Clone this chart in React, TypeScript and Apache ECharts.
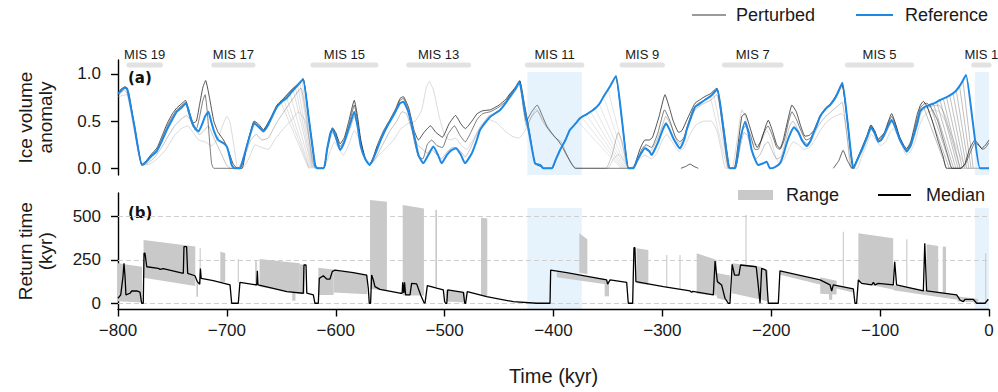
import React, { useEffect, useRef } from "react";
import * as echarts from "echarts";

const FONT = '"Liberation Sans", Arial, Helvetica, sans-serif';

// ---------- MIS stages (kyr) ----------
const MIS_LABELS = ["MIS 19", "MIS 17", "MIS 15", "MIS 13", "MIS 11", "MIS 9", "MIS 7", "MIS 5", "MIS 1"];
const MIS_START = [-790, -712, -621, -533, -424, -337, -243, -130, -14];
const MIS_END = [-761, -676, -563, -478, -374, -300, -191, -71, 0];

// highlighted intervals
const SHADE_START = [-424, -13];
const SHADE_END = [-374, 0];

// ---------- (a) ice volume anomaly ----------
const REF = [
  [-800, 0.79], [-796, 0.84], [-793.5, 0.855], [-791.5, 0.84], [-785, 0.45], [-778, 0.035], [-774, 0.07], [-770, 0.12],
  [-764.5, 0.18], [-760, 0.28], [-755, 0.41], [-750, 0.52], [-746, 0.6], [-742, 0.64], [-737.5, 0.69], [-735, 0.6],
  [-732, 0.49], [-729, 0.42], [-726, 0.39], [-723, 0.46], [-720, 0.55], [-717, 0.6], [-714.5, 0.5], [-712, 0.4],
  [-708, 0.3], [-703, 0.265], [-700, 0.23], [-698, 0.15], [-695.6, 0.035], [-693, 0], [-688, 0], [-685, 0.1],
  [-681.8, 0.23], [-678, 0.38], [-675, 0.477], [-671, 0.44], [-666.5, 0.39], [-663, 0.44], [-660, 0.51], [-654, 0.65],
  [-648, 0.72], [-645, 0.745], [-639, 0.83], [-635, 0.88], [-630, 0.944], [-625, 0.55], [-619, 0.035], [-617, 0],
  [-611, 0], [-608, 0.2], [-605, 0.37], [-603, 0.414], [-600, 0.33], [-596, 0.194], [-593, 0.25], [-590, 0.353],
  [-586, 0.5], [-583, 0.6], [-580, 0.45], [-577, 0.23], [-573, 0.1], [-569, 0.035], [-566, 0.09], [-562, 0.2],
  [-558, 0.32], [-553, 0.44], [-547, 0.56], [-541, 0.69], [-538, 0.706], [-533.4, 0.6], [-528, 0.35], [-524, 0.14],
  [-519.6, 0.053], [-515, 0.14], [-510.4, 0.23], [-506, 0.14], [-502.8, 0.053], [-498, 0.14], [-494, 0.19], [-489.6, 0.212],
  [-485, 0.14], [-481.3, 0.053], [-475, 0.16], [-471, 0.28], [-467.5, 0.406], [-463, 0.48], [-458, 0.547], [-449, 0.618],
  [-444, 0.69], [-440, 0.76], [-435, 0.84], [-431.4, 0.918], [-427, 0.65], [-422, 0.35], [-417, 0.053], [-412, 0.035],
  [-409.4, 0], [-401.7, 0], [-398, 0.09], [-394, 0.194], [-389, 0.3], [-385, 0.406], [-380, 0.47], [-375.7, 0.53],
  [-370, 0.57], [-363.5, 0.618], [-358, 0.68], [-354, 0.76], [-348, 0.87], [-342.6, 0.979], [-337, 0.5], [-331.3, 0],
  [-326.7, 0], [-323, 0.09], [-320.5, 0.14], [-316, 0.212], [-312, 0.18], [-309.8, 0.14], [-307, 0.2], [-303.7, 0.282],
  [-300, 0.4], [-296.7, 0.477], [-293, 0.4], [-290, 0.318], [-286, 0.24], [-283.8, 0.212], [-280, 0.3], [-277.7, 0.406],
  [-274, 0.53], [-270, 0.65], [-265, 0.69], [-261, 0.724], [-256, 0.76], [-249.5, 0.838], [-244, 0.43], [-238, 0],
  [-233.3, 0], [-229, 0.28], [-224, 0.494], [-221, 0.38], [-218, 0.194], [-214, 0.07], [-211.9, 0.035], [-207.3, 0.053],
  [-204.2, 0.07], [-201.2, 0], [-197, 0.01], [-192, 0.053], [-189, 0.14], [-185.8, 0.265], [-182, 0.38], [-179, 0.435],
  [-175, 0.38], [-172, 0.3], [-167.5, 0.236], [-164, 0.29], [-161.4, 0.371], [-158, 0.46], [-155.2, 0.547], [-150, 0.63],
  [-146, 0.671], [-142, 0.73], [-139.9, 0.777], [-134.7, 0.908], [-130, 0.5], [-124.6, 0], [-121, 0.09], [-116.9, 0.194],
  [-112, 0.33], [-108.4, 0.435], [-105, 0.37], [-101.7, 0.282], [-99, 0.3], [-96.4, 0.353], [-93, 0.44], [-89.4, 0.512],
  [-86, 0.43], [-81.8, 0.3], [-78, 0.22], [-75.6, 0.176], [-72, 0.24], [-69.5, 0.335], [-66, 0.47], [-63.4, 0.6],
  [-60, 0.645], [-57.2, 0.66], [-50, 0.69], [-45, 0.724], [-38, 0.76], [-31.2, 0.812], [-26, 0.89], [-21.1, 0.989],
  [-15, 0.5], [-8.3, 0], [0, 0],
];

const PERT_D1 = [
  [-800, 0.8], [-796, 0.85], [-793.5, 0.865], [-791.5, 0.85], [-785, 0.46], [-778, 0.04], [-774, 0.08], [-770, 0.14], [-764, 0.22],
  [-760, 0.33], [-755, 0.47], [-750, 0.58], [-746, 0.64], [-742, 0.68], [-738, 0.72], [-735, 0.62], [-731, 0.48], [-728, 0.5],
  [-725, 0.68], [-722, 0.86], [-719.5, 0.93], [-716, 0.75], [-712, 0.5], [-708, 0.38], [-703, 0.3], [-699, 0.2], [-694, 0.04],
  [-690, 0], [-686, 0], [-682, 0.23], [-678, 0.4], [-675, 0.5], [-671, 0.47], [-666.5, 0.41], [-660, 0.53], [-654, 0.67],
  [-648, 0.74], [-640, 0.84], [-635, 0.89], [-630, 0.95], [-625, 0.55], [-619, 0.035], [-617, 0], [-611, 0], [-608, 0.2],
  [-603, 0.43], [-600, 0.38], [-596, 0.26], [-592, 0.33], [-588, 0.5], [-583, 0.72], [-580, 0.55], [-577, 0.3], [-573, 0.1],
  [-569, 0.035], [-566, 0.1], [-562, 0.24], [-556, 0.4], [-550, 0.52], [-545, 0.63], [-541, 0.74], [-538, 0.76], [-533, 0.64],
  [-528, 0.4], [-524, 0.3], [-519, 0.38], [-513, 0.45], [-508, 0.38], [-502, 0.33], [-496, 0.47], [-490, 0.56], [-485, 0.47],
  [-481, 0.42], [-475, 0.5], [-470, 0.58], [-465, 0.61], [-458, 0.62], [-450, 0.67], [-444, 0.73], [-440, 0.79], [-435, 0.86],
  [-431, 0.93], [-427, 0.7], [-422, 0.38], [-417, 0.05], [-412, 0.02], [-409, 0], [-401, 0], [-398, 0.09], [-394, 0.19],
  [-389, 0.3], [-385, 0.41], [-380, 0.47], [-376, 0.53], [-370, 0.57], [-364, 0.62], [-358, 0.68], [-354, 0.76], [-348, 0.87],
  [-343, 0.975], [-337, 0.5], [-331, 0], [-327, 0], [-323, 0.12], [-320, 0.22], [-316, 0.3], [-312, 0.3], [-309, 0.33],
  [-303, 0.55], [-297.6, 0.78], [-293, 0.62], [-290, 0.5], [-285, 0.38], [-282, 0.4], [-278, 0.5], [-274, 0.6], [-270, 0.69],
  [-265, 0.73], [-261, 0.76], [-256, 0.79], [-250, 0.85], [-244, 0.45], [-238, 0], [-234, 0], [-230, 0.3], [-227, 0.55],
  [-224, 0.58], [-220, 0.45], [-216, 0.3], [-213, 0.22], [-209, 0.3], [-205, 0.45], [-202.7, 0.51], [-199, 0.4], [-195, 0.25],
  [-192, 0.21], [-189, 0.3], [-185, 0.5], [-181, 0.67], [-177, 0.6], [-173, 0.45], [-169, 0.34], [-165, 0.35], [-161, 0.4],
  [-158, 0.48], [-155, 0.56], [-150, 0.64], [-146, 0.68], [-140, 0.78], [-135, 0.9], [-130, 0.5], [-124.6, 0], [-121, 0.1],
  [-117, 0.21], [-112, 0.35], [-108.4, 0.46], [-105, 0.4], [-101.7, 0.31], [-96, 0.38], [-93, 0.48], [-89.4, 0.58], [-86, 0.48],
  [-82, 0.33], [-78, 0.24], [-75.6, 0.21], [-72, 0.28], [-69, 0.42], [-66, 0.57], [-63, 0.67], [-60.3, 0.71], [-57, 0.66],
  [-52, 0.5], [-47, 0.3], [-42, 0.12], [-39, 0], [-26, 0], [-22, 0.05], [-18, 0.2], [-13, 0.3], [-10, 0.26], [-6.7, 0.21],
  [-3, 0.25], [0, 0.3],
];

const PERT_D2 = [
  [-800, 0.78], [-793.5, 0.85], [-790, 0.8], [-785, 0.44], [-778, 0.035], [-770, 0.13], [-764, 0.2], [-760, 0.3], [-755, 0.44],
  [-750, 0.55], [-746, 0.62], [-742, 0.66], [-738, 0.7], [-735, 0.58], [-731, 0.44], [-728, 0.42], [-725, 0.55], [-722, 0.72],
  [-720, 0.78], [-718, 0.6], [-716, 0.3], [-714, 0.05], [-712, 0], [-688, 0], [-682, 0.22], [-678, 0.39], [-675, 0.49],
  [-671, 0.45], [-666.5, 0.4], [-660, 0.52], [-654, 0.66], [-648, 0.73], [-640, 0.83], [-635, 0.885], [-630, 0.945], [-625, 0.55],
  [-619, 0.03], [-617, 0], [-611, 0], [-608, 0.2], [-603, 0.42], [-600, 0.36], [-596, 0.23], [-592, 0.3], [-588, 0.45],
  [-583, 0.67], [-580, 0.5], [-577, 0.27], [-573, 0.1], [-569, 0.035], [-566, 0.1], [-562, 0.22], [-556, 0.36], [-550, 0.5],
  [-545, 0.6], [-541, 0.72], [-538, 0.74], [-533, 0.6], [-528, 0.3], [-524, 0.12], [-520, 0.1], [-516, 0.25], [-512, 0.3],
  [-507, 0.24], [-502, 0.22], [-497, 0.36], [-491, 0.45], [-486, 0.35], [-481, 0.28], [-476, 0.38], [-470, 0.52], [-465, 0.58],
  [-458, 0.6], [-450, 0.65], [-444, 0.71], [-440, 0.78], [-435, 0.85], [-431, 0.925], [-428, 0.7], [-425, 0.5], [-420, 0.6],
  [-415, 0.67], [-410, 0.55], [-406, 0.44], [-400, 0.35], [-396, 0.3], [-392, 0.23], [-388, 0.14], [-383, 0.04], [-380, 0],
  [-327, 0], [-323, 0.08], [-319, 0.2], [-315, 0.25], [-310, 0.22], [-304, 0.38], [-298, 0.62], [-293, 0.5], [-288, 0.33],
  [-284, 0.28], [-280, 0.33], [-277, 0.45], [-272, 0.62], [-268, 0.68], [-262, 0.72], [-256, 0.77], [-250, 0.84], [-246, 0.55],
  [-241, 0.1], [-239, 0], [-233, 0], [-229, 0.25], [-226, 0.42], [-223, 0.45], [-219, 0.35], [-215, 0.2], [-212, 0.2],
  [-208, 0.35], [-203, 0.45], [-199, 0.35], [-195, 0.22], [-192, 0.2], [-188, 0.3], [-184, 0.5], [-181, 0.6], [-177, 0.52],
  [-172, 0.38], [-168, 0.3], [-164, 0.32], [-161, 0.38], [-158, 0.47], [-155, 0.55], [-150, 0.63], [-146, 0.67], [-140, 0.76],
  [-135, 0.88], [-130, 0.5], [-125, 0], [-121, 0.09], [-117, 0.2], [-112, 0.34], [-108.4, 0.45], [-105, 0.39], [-101.7, 0.3],
  [-96, 0.37], [-93, 0.46], [-89.4, 0.55], [-86, 0.46], [-82, 0.32], [-78, 0.22], [-75.6, 0.2], [-72, 0.26], [-69, 0.38],
  [-66, 0.52], [-63, 0.64], [-60, 0.68], [-57, 0.69], [-52, 0.62], [-47, 0.5], [-42, 0.3], [-37, 0.1], [-34, 0], [-26, 0],
  [-22, 0.04], [-17, 0.17], [-13, 0.27], [-9, 0.24], [-6, 0.2], [-3, 0.22], [0, 0.27],
];

const PERT_M = [
  [-800, 0.77], [-794, 0.83], [-790, 0.75], [-784, 0.4], [-778, 0.03], [-772, 0.06], [-766, 0.12], [-760, 0.22], [-754, 0.34],
  [-748, 0.45], [-742, 0.52], [-737, 0.56], [-733, 0.5], [-729, 0.4], [-725, 0.36], [-721, 0.4], [-717, 0.45], [-713, 0.35],
  [-709, 0.25], [-705, 0.15], [-701, 0.05], [-697, 0], [-690, 0], [-684, 0.12], [-678, 0.3], [-673, 0.36], [-668, 0.3],
  [-662, 0.32], [-656, 0.45], [-650, 0.56], [-644, 0.66], [-638, 0.76], [-632, 0.85], [-627, 0.55], [-622, 0.1], [-619, 0],
  [-611, 0], [-607, 0.22], [-603, 0.38], [-599, 0.3], [-596, 0.2], [-591, 0.3], [-586, 0.45], [-583, 0.55], [-579, 0.4],
  [-575, 0.2], [-570, 0.04], [-566, 0.06], [-561, 0.16], [-556, 0.27], [-550, 0.4], [-544, 0.5], [-539, 0.6], [-535, 0.58],
  [-530, 0.4], [-525, 0.25], [-520, 0.2], [-516, 0.16], [-512, 0.2], [-507, 0.14], [-503, 0.1], [-498, 0.17], [-493, 0.22],
  [-489, 0.22], [-484, 0.16], [-481, 0.12], [-476, 0.22], [-471, 0.35], [-466, 0.45], [-460, 0.55], [-452, 0.6], [-445, 0.67],
  [-440, 0.74], [-435, 0.82], [-431, 0.9], [-428, 0.65], [-425, 0.45], [-420, 0.55], [-415, 0.61], [-410, 0.5], [-404, 0.4],
  [-398, 0.32], [-393, 0.28], [-389, 0.18], [-384, 0.06], [-380, 0], [-352, 0], [-346, 0.15], [-340.5, 0.38], [-337, 0.28],
  [-333, 0.05], [-331, 0], [-327, 0], [-323, 0.07], [-319, 0.16], [-316, 0.23], [-311, 0.18], [-305, 0.3], [-300, 0.45],
  [-297, 0.55], [-292, 0.45], [-287, 0.3], [-284, 0.25], [-279, 0.36], [-275, 0.5], [-270, 0.62], [-263, 0.68], [-256, 0.72],
  [-250, 0.78], [-245, 0.5], [-240, 0.1], [-238, 0], [-233, 0], [-229, 0.2], [-225, 0.38], [-222, 0.35], [-218, 0.2],
  [-214, 0.1], [-210, 0.15], [-206, 0.25], [-203, 0.28], [-199, 0.18], [-195, 0.1], [-191, 0.12], [-187, 0.28], [-183, 0.45],
  [-180, 0.5], [-176, 0.42], [-171, 0.3], [-167, 0.26], [-163, 0.3], [-159, 0.4], [-155, 0.48], [-150, 0.55], [-145, 0.6],
  [-140, 0.65], [-135, 0.7], [-131, 0.4], [-126, 0], [-124, 0], [-120, 0.1], [-116, 0.19], [-111, 0.33], [-108, 0.42],
  [-104, 0.35], [-101, 0.28], [-96, 0.34], [-92, 0.44], [-89, 0.5], [-85, 0.42], [-81, 0.3], [-77, 0.2], [-75, 0.18],
  [-71, 0.25], [-68, 0.36], [-65, 0.5], [-62, 0.6], [-58, 0.64], [-52, 0.66], [-46, 0.67], [-40, 0.55], [-34, 0.3],
  [-29, 0.1], [-26, 0], [0, 0],
];

const PERT_L = [
  [-800, 0.76], [-792, 0.78], [-786, 0.45], [-779, 0.05], [-772, 0.04], [-764, 0.1], [-756, 0.2], [-748, 0.35], [-742, 0.42],
  [-736, 0.45], [-731, 0.38], [-726, 0.3], [-720, 0.28], [-714, 0.24], [-708, 0.32], [-704, 0.45], [-700, 0.55], [-697, 0.48],
  [-693, 0.2], [-690, 0], [-686, 0], [-680, 0.1], [-674, 0.25], [-668, 0.22], [-662, 0.2], [-655, 0.32], [-648, 0.42],
  [-640, 0.52], [-634, 0.6], [-628, 0.5], [-622, 0.15], [-618, 0], [-611, 0], [-606, 0.15], [-601, 0.28], [-597, 0.2],
  [-593, 0.14], [-588, 0.25], [-583, 0.4], [-578, 0.3], [-573, 0.12], [-568, 0.05], [-562, 0.12], [-555, 0.2], [-547, 0.3],
  [-540, 0.42], [-533, 0.48], [-527, 0.5], [-521, 0.62], [-517, 0.85], [-514, 0.92], [-510, 0.82], [-505, 0.55], [-500, 0.35],
  [-495, 0.3], [-490, 0.32], [-485, 0.25], [-480, 0.2], [-474, 0.3], [-467, 0.45], [-460, 0.52], [-452, 0.48], [-445, 0.4],
  [-438, 0.34], [-432, 0.32], [-427, 0.38], [-420, 0.55], [-416, 0.63], [-411, 0.55], [-405, 0.44], [-399, 0.33], [-393, 0.25],
  [-387, 0.12], [-382, 0.03], [-378, 0], [-350, 0], [-345, 0.1], [-340, 0.15], [-335, 0.08], [-331, 0], [-326, 0.03],
  [-321, 0.1], [-316, 0.14], [-310, 0.1], [-305, 0.16], [-300, 0.3], [-296, 0.36], [-291, 0.28], [-285, 0.18], [-280, 0.22],
  [-275, 0.35], [-270, 0.45], [-262, 0.5], [-255, 0.5], [-250, 0.4], [-246, 0.2], [-242, 0], [-236, 0], [-232, 0.25],
  [-229, 0.5], [-227, 0.62], [-224, 0.55], [-220, 0.35], [-216, 0.25], [-212, 0.25], [-208, 0.32], [-204, 0.4], [-200, 0.3],
  [-196, 0.12], [-192, 0.05], [-188, 0.1], [-184, 0.2], [-180, 0.28], [-175, 0.25], [-170, 0.2], [-165, 0.22], [-160, 0.3],
  [-155, 0.4], [-150, 0.48], [-145, 0.53], [-140, 0.56], [-136, 0.58], [-133, 0.55], [-130, 0.3], [-127, 0], [-121, 0],
  [-117, 0.12], [-112, 0.26], [-108, 0.36], [-104, 0.3], [-100, 0.24], [-95, 0.28], [-91, 0.38], [-88, 0.42], [-84, 0.35],
  [-80, 0.24], [-76, 0.14], [-72, 0.18], [-68, 0.28], [-64, 0.45], [-60, 0.55], [-55, 0.6], [-50, 0.62], [-44, 0.58],
  [-38, 0.45], [-32, 0.28], [-26, 0.12], [-22, 0.03], [-20, 0], [0, 0],
];

const PERT_BUMPS = [
  [-283, 0], [-278.5, 0.02], [-274.6, 0.045], [-271, 0.02], [-267, 0], [-267, null],
  [-143, 0], [-138, 0.08], [-134, 0.19], [-130, 0.08], [-126, 0],
];

// fans of perturbed runs: [start x, start y, x where they reach 0]
const FAN_A = [[-651, 0.72, -625], [-648, 0.73, -624.5], [-645, 0.745, -624], [-642, 0.79, -623], [-639, 0.83, -622],
  [-637, 0.855, -621.5], [-635, 0.88, -621], [-633, 0.905, -620], [-631, 0.93, -619.5]];
const FAN_B = [[-378, 0.5, -338], [-374, 0.54, -337], [-370, 0.57, -336], [-366, 0.6, -335], [-362, 0.63, -334],
  [-358, 0.68, -333], [-354, 0.76, -332], [-350, 0.84, -331.5]];
const FAN_C = [[-60, 0.645, -39], [-57, 0.66, -36.5], [-54, 0.67, -34.5], [-51, 0.685, -32.5], [-48, 0.7, -30.5],
  [-45, 0.724, -28.5], [-42, 0.74, -26.5], [-39, 0.755, -24.5], [-36, 0.77, -22.5], [-33, 0.795, -20.5],
  [-30, 0.82, -18.5], [-27, 0.87, -16.5], [-24, 0.93, -14.5]];
const FAN_D = [[-256, 0.76, -240.5], [-253, 0.8, -239.5]];

// ---------- (b) return time ----------
const MEDIAN = [
  [-800, 29], [-797.5, 48], [-795.5, 150], [-794.5, 231], [-793.5, 150], [-792.7, 48], [-789, 58], [-787.4, 71], [-782.8, 71],
  [-779.8, 64], [-778.5, 10], [-778.2, 0], [-776.8, 0], [-776.1, 289], [-775.2, 289], [-773.6, 211], [-763, 202], [-761.4, 196],
  [-758.4, 200], [-740, 173], [-739.4, 327], [-737, 327], [-736, 173], [-729.3, 159], [-727.1, 125], [-725, 110], [-724.3, 200],
  [-723.6, 144], [-712.5, 131], [-697.1, 106], [-695.6, 0], [-689.5, 0], [-688, 121], [-672.6, 106], [-672, 187], [-671.4, 106],
  [-660.4, 90], [-645, 67], [-629.8, 58], [-629.2, 221], [-627.3, 221], [-626.6, 58], [-620.6, 48], [-619.1, 0], [-616, 0],
  [-615.1, 144], [-611.4, 159], [-608.3, 140], [-605.3, 140], [-603.2, 183], [-600.7, 192], [-583.9, 177], [-571.6, 163],
  [-570.1, 87], [-569.2, 0], [-568, 0], [-567, 163], [-565.5, 135], [-564, 96], [-559.4, 80], [-541, 58], [-539, 58],
  [-538.5, 121], [-537.5, 60], [-536.8, 121], [-535.8, 48], [-531.8, 48], [-530.3, 115], [-525.7, 112], [-522, 48], [-519, 5],
  [-518, 0], [-515.9, 102], [-507.3, 87], [-501.2, 77], [-500, 10], [-499.1, 0], [-498, 0], [-497.2, 77], [-482.8, 63],
  [-481.5, 0], [-480.7, 0], [-479.2, 67], [-461.4, 38], [-436.9, 9], [-415.5, 0], [-403.2, 0], [-402.6, 192], [-387.9, 177],
  [-351.2, 135], [-350.3, 110], [-348, 135], [-332.8, 121], [-331.3, 0], [-327.3, 0], [-326.1, 321], [-325.2, 321],
  [-324.3, 125], [-299.1, 96], [-274.6, 71], [-273.1, 63], [-272, 69], [-253.2, 48], [-251.6, 244], [-251.1, 244],
  [-249.5, 125], [-245.6, 106], [-242.5, 29], [-239.4, 0], [-237.9, 0], [-235.9, 225], [-233.7, 163], [-229.7, 163],
  [-228.2, 221], [-213.8, 211], [-212.3, 125], [-210.3, 0], [-208.8, 202], [-204.8, 192], [-202.7, 0], [-193.5, 0],
  [-192, 187], [-155.2, 135], [-146, 106], [-144.5, 71], [-143, 106], [-124.6, 83], [-123.1, 0], [-121.6, 0], [-120, 135],
  [-117, 115], [-107.7, 106], [-106.2, 121], [-104.7, 106], [-101.7, 115], [-87.9, 106], [-86.6, 240], [-86.1, 240],
  [-84.9, 106], [-60.3, 71], [-59, 346], [-58.6, 346], [-57.3, 71], [-29.7, 48], [-26.7, 19], [-23.6, 10], [-22.1, 23],
  [-14.5, 23], [-11.3, 0], [-3.7, 0], [-0.6, 23], [0, 23],
];

// range pieces: [x0, x1, low at x0, high at x0, low at x1, high at x1]
const RANGE = [
  [-800, -778, 12, 231, 5, 211], [-776.5, -729, 148, 365, 100, 328], [-728, -726.5, 38, 125, 38, 125],
  [-725, -724, 110, 318, 110, 318], [-706, -701.5, 125, 298, 122, 290], [-690, -689, 120, 255, 120, 255],
  [-674, -672.5, 100, 250, 100, 250], [-670, -633, 95, 256, 55, 231], [-640, -637, 15, 62, 15, 62],
  [-633, -628.5, 55, 225, 55, 222], [-616, -602, 48, 205, 48, 195], [-602, -571, 62, 190, 52, 165],
  [-568.5, -553, 82, 596, 72, 587], [-538.5, -519, 45, 568, 45, 548], [-508.5, -507, 90, 539, 90, 539],
  [-499, -481, 10, 77, 5, 63], [-466.6, -460.8, 45, 494, 40, 490], [-397, -352, 150, 180, 110, 140],
  [-376.3, -368.9, 178, 404, 168, 370], [-353, -349, 40, 130, 40, 130], [-323.7, -312.9, 115, 318, 105, 308],
  [-296.5, -295.5, 95, 279, 95, 279], [-284.3, -283.3, 85, 279, 85, 279], [-268.5, -250, 55, 289, 45, 250],
  [-250, -238, 30, 175, 10, 160], [-236, -209, 58, 231, 20, 211], [-223.7, -222.7, 200, 510, 200, 510],
  [-209, -203, 20, 200, 10, 190], [-192, -125, 165, 187, 62, 83], [-155, -140, 55, 150, 50, 130],
  [-147, -144, 20, 100, 20, 100], [-134.3, -133.3, 90, 413, 90, 413], [-120, -88, 120, 404, 80, 375],
  [-88, -29, 75, 106, 20, 48], [-29, -10, 10, 40, 5, 25], [-76, -75, 90, 370, 90, 370],
  [-57.3, -46.7, 60, 341, 55, 331], [-42.5, -39.5, 55, 327, 55, 327], [-3.5, -2.5, 10, 289, 10, 289],
];

const TOP_TICKS = [0, 0.5, 1.0];
const BOTTOM_TICKS = [0, 250, 500];

// ---------------------------------------------------------------
const BLUE = "#1E88E5";
const TXT = "#1a1a1a";
const TOP_MIN = -0.071;
const TOP_MAX = 1.148;
const BOT_MIN = -36;
const BOT_MAX = 637;

const fanData = (segs: number[][]) =>
  segs.flatMap(([xs, ys, xe]) => [[xs, ys], [xe, 0], [xe, null]]);

const topLine = (data: any[], color: string, width: number, opacity: number, z: number, name = "Perturbed") => ({
  type: "line",
  name,
  xAxisIndex: 0,
  yAxisIndex: 0,
  data,
  symbol: "none",
  showSymbol: false,
  smooth: 0.15,
  connectNulls: false,
  silent: true,
  z,
  itemStyle: { color },
  lineStyle: { color, width, opacity },
});

function buildOption() {
  const minus = (v: number) => String(v).replace("-", "\u2212");
  return {
    animation: false,
    backgroundColor: "#ffffff",
    textStyle: { fontFamily: FONT },
    grid: [
      { left: 118, top: 60, width: 871, height: 115, outerBoundsMode: "none" },
      { left: 118, top: 193, width: 871, height: 116.5, outerBoundsMode: "none" },
    ],
    xAxis: [
      { gridIndex: 0, type: "value", min: -800, max: 0, interval: 100, show: false },
      {
        gridIndex: 1, type: "value", min: -800, max: 0, interval: 100,
        axisLine: { show: true, onZero: false, lineStyle: { color: "#000", width: 1.4 } },
        axisTick: { show: true, length: 7, lineStyle: { color: "#000", width: 1.4 } },
        axisLabel: { fontSize: 17, color: TXT, margin: 12, fontFamily: FONT, formatter: minus },
        splitLine: { show: false },
        name: "Time (kyr)", nameLocation: "middle", nameGap: 56,
        nameTextStyle: { fontSize: 20, color: TXT, fontFamily: FONT },
      },
    ],
    yAxis: [
      {
        gridIndex: 0, type: "value", min: TOP_MIN, max: TOP_MAX,
        axisLine: { show: true, onZero: false, lineStyle: { color: "#000", width: 1.4 } },
        axisTick: { show: true, length: 7, customValues: TOP_TICKS, lineStyle: { color: "#000", width: 1.4 } },
        axisLabel: { customValues: TOP_TICKS, fontSize: 17, color: TXT, margin: 17, fontFamily: FONT,
          formatter: (v: number) => v.toFixed(1) },
        splitLine: { show: false },
        name: "Ice volume\nanomaly", nameLocation: "middle", nameGap: 63, nameRotate: 90,
        nameTextStyle: { fontSize: 19, lineHeight: 20, color: TXT, fontFamily: FONT },
      },
      {
        gridIndex: 1, type: "value", min: BOT_MIN, max: BOT_MAX,
        axisLine: { show: true, onZero: false, lineStyle: { color: "#000", width: 1.4 } },
        axisTick: { show: true, length: 7, customValues: BOTTOM_TICKS, lineStyle: { color: "#000", width: 1.4 } },
        axisLabel: { customValues: BOTTOM_TICKS, fontSize: 17, color: TXT, margin: 17, fontFamily: FONT },
        splitLine: { show: false },
        name: "Return time\n(kyr)", nameLocation: "middle", nameGap: 63, nameRotate: 90,
        nameTextStyle: { fontSize: 19, lineHeight: 20, color: TXT, fontFamily: FONT },
      },
    ],
    legend: [
      { data: [{ name: "Perturbed", itemStyle: { color: "#9a9a9a" }, lineStyle: { color: "#9a9a9a", width: 1, opacity: 1 } }],
        left: 692, top: 6, padding: 0, icon: "rect", itemWidth: 34, itemHeight: 2, selectedMode: false,
        textStyle: { fontSize: 18, color: TXT, fontFamily: FONT, padding: [0, 0, 0, 5] } },
      { data: [{ name: "Reference", itemStyle: { color: BLUE }, lineStyle: { color: BLUE, width: 2.2 } }],
        left: 856, top: 6, padding: 0, icon: "rect", itemWidth: 37, itemHeight: 2, selectedMode: false,
        textStyle: { fontSize: 18, color: TXT, fontFamily: FONT, padding: [0, 0, 0, 7] } },
      { data: [{ name: "Range", itemStyle: { color: "#c9c9c9" } }],
        left: 738, top: 186, padding: 0, icon: "rect", itemWidth: 35, itemHeight: 10, selectedMode: false,
        textStyle: { fontSize: 18, color: TXT, fontFamily: FONT, padding: [0, 0, 0, 8] } },
      { data: [{ name: "Median", itemStyle: { color: "#000" }, lineStyle: { color: "#000", width: 1.3 } }],
        left: 878, top: 186, padding: 0, icon: "rect", itemWidth: 33, itemHeight: 2, selectedMode: false,
        textStyle: { fontSize: 18, color: TXT, fontFamily: FONT, padding: [0, 0, 0, 10] } },
    ],
    graphic: [
      { type: "text", left: 128, top: 70, silent: true,
        style: { text: "(a)", font: 'bold 15px "DejaVu Sans", sans-serif', fill: "#111" } },
      { type: "text", left: 128, top: 205, silent: true,
        style: { text: "(b)", font: 'bold 15px "DejaVu Sans", sans-serif', fill: "#111" } },
    ],
    series: [
      // shading + helper markers, top panel
      {
        type: "line", name: "shadeTop", xAxisIndex: 0, yAxisIndex: 0, data: [], silent: true, z: 0,
        markArea: {
          silent: true, z: 0,
          itemStyle: { color: "rgba(30,136,229,0.11)" },
          data: SHADE_START.map((s, i) => [{ xAxis: s, yAxis: TOP_MIN }, { xAxis: SHADE_END[i], yAxis: 1.02 }]),
        },
      },
      // shading + gridlines, bottom panel
      {
        type: "line", name: "shadeBottom", xAxisIndex: 1, yAxisIndex: 1, data: [], silent: true, z: 0,
        markArea: {
          silent: true, z: 0,
          itemStyle: { color: "rgba(30,136,229,0.11)" },
          data: SHADE_START.map((s, i) => [{ xAxis: s, yAxis: BOT_MIN }, { xAxis: SHADE_END[i], yAxis: 550 }]),
        },
        markLine: {
          silent: true, z: 0.5, symbol: "none", label: { show: false },
          lineStyle: { color: "#cfcfcf", width: 1, type: [5, 3] },
          data: BOTTOM_TICKS.map((v) => ({ yAxis: v })),
        },
      },
      // MIS bars and labels
      {
        type: "custom", name: "MIS", xAxisIndex: 0, yAxisIndex: 0, silent: true, clip: false, z: 6,
        data: MIS_START.map((s, i) => [s, MIS_END[i]]),
        encode: { x: [0, 1] },
        renderItem: (params: any, api: any) => {
          const p0 = api.coord([api.value(0), 1.095]);
          const p1 = api.coord([api.value(1), 1.095]);
          const h = 5;
          return {
            type: "group",
            children: [
              { type: "rect", shape: { x: p0[0] - 2.5, y: p0[1] - h / 2, width: p1[0] - p0[0] + 5, height: h, r: h / 2 },
                style: { fill: "#e2e2e2" } },
              { type: "text", x: (p0[0] + p1[0]) / 2, y: p0[1] - 11,
                style: { text: MIS_LABELS[params.dataIndex], fill: TXT, fontSize: 13, fontFamily: FONT,
                  align: "center", verticalAlign: "middle" } },
            ],
          };
        },
      },
      // perturbed runs
      topLine(fanData(FAN_A), "#8a8a8a", 0.5, 0.55, 1),
      topLine(fanData(FAN_B), "#9a9a9a", 0.5, 0.5, 1),
      topLine(fanData(FAN_C), "#4a4a4a", 0.6, 0.6, 1),
      topLine(fanData(FAN_D), "#888", 0.5, 0.5, 1),
      topLine(PERT_L, "#a8a8a8", 0.7, 0.6, 2),
      topLine(PERT_M, "#707070", 0.7, 0.6, 2),
      topLine(PERT_BUMPS, "#222", 0.8, 0.9, 2),
      topLine(PERT_D2, "#333", 0.8, 0.8, 3),
      topLine(PERT_D1, "#111", 0.8, 0.9, 3),
      topLine(REF, BLUE, 2, 1, 5, "Reference"),
      // range band
      {
        type: "custom", name: "Range", xAxisIndex: 1, yAxisIndex: 1, silent: true, z: 2,
        itemStyle: { color: "#c9c9c9" },
        data: RANGE,
        encode: { x: [0, 1], y: [2, 3, 4, 5] },
        renderItem: (_params: any, api: any) => {
          const x0 = api.value(0), x1 = api.value(1);
          const pts = [
            api.coord([x0, api.value(2)]), api.coord([x0, api.value(3)]),
            api.coord([x1, api.value(5)]), api.coord([x1, api.value(4)]),
          ];
          return { type: "polygon", shape: { points: pts }, style: { fill: "#c9c9c9" } };
        },
      },
      {
        type: "line", name: "Median", xAxisIndex: 1, yAxisIndex: 1, data: MEDIAN, symbol: "none", showSymbol: false,
        silent: true, z: 4, itemStyle: { color: "#000" }, lineStyle: { color: "#000", width: 1.3 },
      },
    ],
  };
}

export default function App() {
  const ref = useRef<HTMLDivElement>(null);
  useEffect(() => {
    if (!ref.current) return;
    const chart = echarts.init(ref.current, null, { renderer: "svg" });
    chart.setOption(buildOption() as any);
    return () => chart.dispose();
  }, []);
  return <div ref={ref} style={{ position: "absolute", left: 0, top: 0, width: 998, height: 392 }} />;
}
